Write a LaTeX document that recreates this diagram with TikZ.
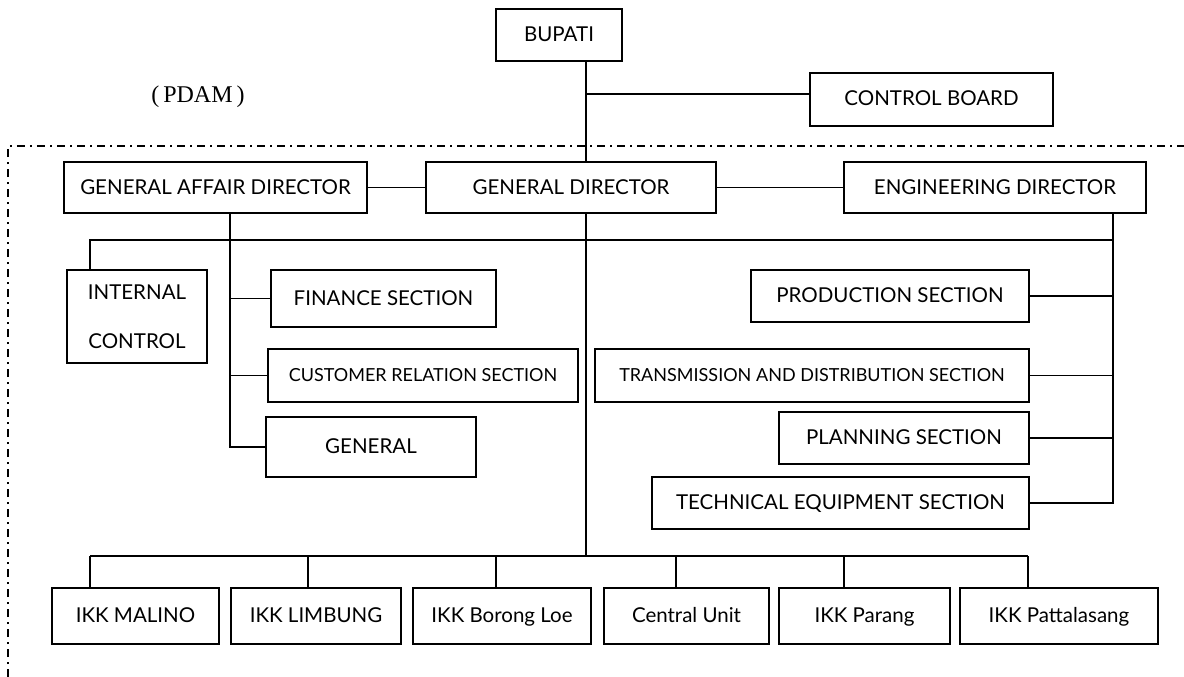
\documentclass[tikz,border=0pt]{standalone}
\usepackage{fontspec}
\setmainfont{Lato}
\newfontfamily\serifpdam{Liberation Serif}
\begin{document}
\begin{tikzpicture}[x=1pt,y=-1pt,
  box/.style={draw, line width=1.2pt, inner sep=0pt, align=center,
    text height=13pt, text depth=0pt, font=\fontsize{20.5}{24}\selectfont},
  smallbox/.style={box, text height=11.5pt, font=\fontsize{18}{22}\selectfont},
  link/.style={line width=1.2pt},
  frame/.style={line width=1.1pt, dash pattern=on 8pt off 5pt on 2pt off 5pt}]
\useasboundingbox (0,0) rectangle (1184,677);

% box helper: name, x1, y1, x2, y2, style, text
\newcommand\orgbox[7]{%
  \pgfmathsetmacro\bw{#4-#2}\pgfmathsetmacro\bh{#5-#3}%
  \node[#6, minimum width=\bw pt, minimum height=\bh pt] (#1) at ({(#2+#4)/2},{(#3+#5)/2}) {#7};}

% company boundary
\coordinate (fcorner) at (8,146);
\draw[frame] (fcorner |- 0,677) -- (fcorner) -- (fcorner -| 1184,0);
\node[font=\serifpdam\fontsize{24}{28}\selectfont] (pdam) at (198,97) {(\hspace{4pt}PDAM\hspace{4pt})};

% top level
\orgbox{bupati}{496}{9}{622}{61}{box}{BUPATI}
\orgbox{cb}{810}{73}{1053}{126}{box}{CONTROL BOARD}

% directors
\orgbox{gad}{64}{162}{367}{213}{box}{GENERAL AFFAIR DIRECTOR}
\orgbox{gd}{426}{162}{716}{213}{box}{GENERAL DIRECTOR}
\orgbox{ed}{844}{162}{1146}{213}{box}{ENGINEERING DIRECTOR}

% general affair sections
\orgbox{ic}{67}{270}{207}{363}{box, text height={}, text depth={}, font=\fontsize{20.5}{49}\selectfont}{INTERNAL\\CONTROL}
\orgbox{fin}{271}{270}{496}{327}{box}{FINANCE SECTION}
\orgbox{crs}{268}{349}{578}{402}{smallbox}{CUSTOMER RELATION SECTION}
\orgbox{gen}{266}{417}{476}{477}{box}{GENERAL}

% engineering sections
\orgbox{prod}{751}{270}{1029}{322}{box}{PRODUCTION SECTION}
\orgbox{tds}{595}{349}{1029}{402}{smallbox}{TRANSMISSION AND DISTRIBUTION SECTION}
\orgbox{plan}{779}{412}{1029}{464}{box}{PLANNING SECTION}
\orgbox{tes}{652}{477}{1029}{529}{box}{TECHNICAL EQUIPMENT SECTION}

% units
\orgbox{u1}{52}{588}{219}{644}{box}{IKK MALINO}
\orgbox{u2}{231}{588}{401}{644}{box}{IKK LIMBUNG}
\orgbox{u3}{413}{588}{591}{644}{box}{IKK Borong Loe}
\orgbox{u4}{604}{588}{769}{644}{box}{Central Unit}
\orgbox{u5}{779}{588}{950}{644}{box}{IKK Parang}
\orgbox{u6}{960}{588}{1158}{644}{box}{IKK Pattalasang}

% trunk lines and buses
\coordinate (spine) at (586,0);
\coordinate (gaspine) at (230,0);
\coordinate (edspine) at (1113,0);
\coordinate (busA) at (0,240);
\coordinate (busB) at (0,556);
\coordinate (d1) at (90,556);
\coordinate (d2) at (308,556);
\coordinate (d3) at (496,556);
\coordinate (d4) at (676,556);
\coordinate (d5) at (844,556);
\coordinate (d6) at (1028,556);

\draw[link] (bupati.south -| spine) -- (gd.north -| spine);
\draw[link] (spine |- 0,94) -- (cb.west |- 0,94);
\draw[link] (gd.south -| spine) -- (busB -| spine);
\draw[link] (gad.east) -- (gd.west);
\draw[link] (gd.east) -- (ed.west);

% upper bus from the engineering director across to internal control
\draw[link] (ed.south -| edspine) -- (busA -| edspine) -- (busA -| d1) -- (ic.north -| d1);
\draw[link] (busA -| edspine) -- (tes.east -| edspine) -- (tes.east);
\draw[link] (prod.east) -- (prod.east -| edspine);
\draw[link] (tds.east) -- (tds.east -| edspine);
\draw[link] (plan.east) -- (plan.east -| edspine);

% general affair branch
\draw[link] (gad.south -| gaspine) -- (gen.west -| gaspine) -- (gen.west);
\draw[link] (fin.west -| gaspine) -- (fin.west);
\draw[link] (crs.west -| gaspine) -- (crs.west);

% lower bus to the units
\draw[link] (d1) -- (d6);
\draw[link] (d1) -- (u1.north -| d1);
\draw[link] (d2) -- (u2.north -| d2);
\draw[link] (d3) -- (u3.north -| d3);
\draw[link] (d4) -- (u4.north -| d4);
\draw[link] (d5) -- (u5.north -| d5);
\draw[link] (d6) -- (u6.north -| d6);
\end{tikzpicture}
\end{document}
